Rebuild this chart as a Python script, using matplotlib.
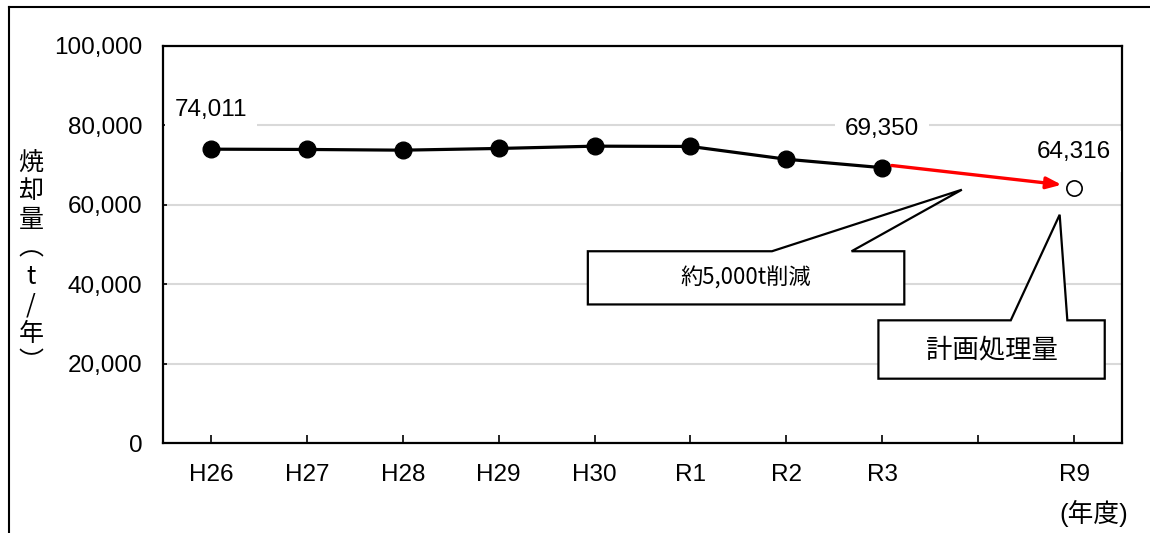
"""焼却量の推移と計画処理量（R9）— 折れ線グラフ。"""
import matplotlib
matplotlib.use("Agg")
import matplotlib.pyplot as plt
from matplotlib.lines import Line2D
from matplotlib.patches import Polygon
from matplotlib.ticker import FuncFormatter

plt.rcParams["font.family"] = ["Liberation Sans", "Noto Sans CJK JP"]
JP = ["Noto Sans CJK JP", "Liberation Sans"]

# データ（t/年）
YEARS = ["H26", "H27", "H28", "H29", "H30", "R1", "R2", "R3", "", "R9"]
ACTUAL = [74011, 73940, 73760, 74190, 74770, 74700, 71480, 69350]
PLAN = 64316
PLAN_IDX = 9
LABEL_IDX = [0, 7]            # 数値ラベルを付ける実績
YTICKS = [0, 20000, 40000, 60000, 80000, 100000]
YLABEL_CHARS = ["焼", "却", "量", "︵", "t", "/", "年", "︶"]

W, H = 1150, 533
fig = plt.figure(figsize=(W / 100, H / 100), dpi=100)
ax = fig.add_axes([163 / W, 1 - 443 / H, (1122 - 163) / W, (443 - 46) / H])

x_act = list(range(len(ACTUAL)))
ax.plot(x_act, ACTUAL, color="black", lw=2.3, marker="o", ms=12, zorder=4)
ax.plot([PLAN_IDX], [PLAN], ls="none", marker="o", ms=11, mfc="white",
        mec="black", mew=1.2, zorder=4)

lbl = dict(textcoords="offset points", ha="center", va="center", fontsize=17.5,
           zorder=5, bbox=dict(boxstyle="square,pad=0.4", fc="white", ec="none"))
for i in LABEL_IDX:
    ax.annotate(f"{ACTUAL[i]:,}", (i, ACTUAL[i]), xytext=(0, 28), **lbl)
ax.annotate(f"{PLAN:,}", (PLAN_IDX, PLAN), xytext=(0, 26), **lbl)

# 赤矢印 R3 → R9
ax.annotate("", xy=(8.87, 65050), xytext=(7.1, 69900), zorder=6,
            arrowprops=dict(arrowstyle="-|>,head_length=0.9,head_width=0.35",
                            color="#ff0000", lw=2.4, shrinkA=0, shrinkB=0))

# 吹き出し
def callout(x0, x1, y0, y1, b0, b1, tip, text, fs):
    pts = [(x0, y0), (b0, y0), tip, (b1, y0), (x1, y0), (x1, y1), (x0, y1)]
    ax.add_patch(Polygon(pts, closed=True, fc="white", ec="black", lw=1.6,
                         zorder=5, clip_on=False))
    ax.text((x0 + x1) / 2, (y0 + y1) / 2, text, ha="center", va="center",
            fontsize=fs, family=JP, zorder=6)

callout(3.93, 7.23, 48300, 34900, 5.85, 6.68, (7.83, 63800), "約5,000t削減", 16)
callout(6.96, 9.32, 30900, 16200, 8.34, 8.93, (8.85, 57500), "計画処理量", 19)

ax.set_xlim(-0.5, 9.5)
ax.set_ylim(0, 100000)
ax.set_xticks(range(len(YEARS)))
ax.set_xticklabels(YEARS)
ax.set_yticks(YTICKS)
ax.yaxis.set_major_formatter(FuncFormatter(lambda v, _: f"{int(v):,}"))
ax.tick_params(axis="x", direction="in", length=6, width=1.2, pad=15, labelsize=17.5)
ax.tick_params(axis="y", direction="in", length=3, width=1.2, pad=15, labelsize=17.5)
ax.yaxis.grid(True, color="#d9d9d9", lw=1.5)
ax.set_axisbelow(True)
for s in ax.spines.values():
    s.set_linewidth(1.6)
    s.set_color("black")

# 縦書きの軸ラベル
for k, ch in enumerate(YLABEL_CHARS):
    fig.text(31 / W, 1 - (163 + 28.5 * k) / H, ch, ha="center", va="center",
             fontsize=18, family=JP)
fig.text(1094 / W, 1 - 513 / H, "(年度)", ha="center", va="center", fontsize=18.5)

# 外枠（上・左）
fig.add_artist(Line2D([9 / W, 1], [1 - 7 / H] * 2, transform=fig.transFigure,
                      color="black", lw=1.5))
fig.add_artist(Line2D([9 / W] * 2, [0, 1 - 7 / H], transform=fig.transFigure,
                      color="black", lw=1.5))

fig.savefig("out.png", dpi=100)
